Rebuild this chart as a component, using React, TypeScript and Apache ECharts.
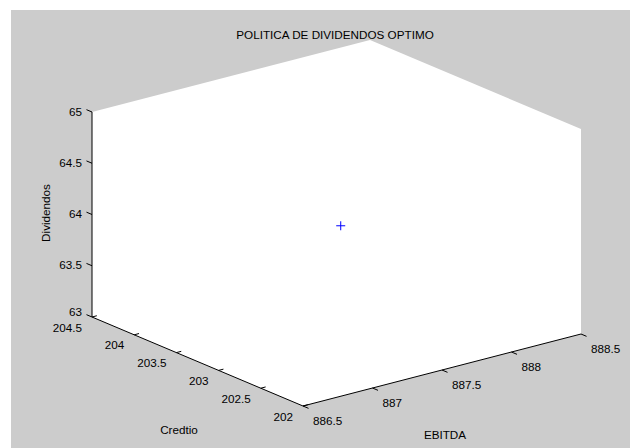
import React, { useEffect, useRef } from "react";
import * as echarts from "echarts";

// ---- data ----
const titleText = "POLITICA DE DIVIDENDOS OPTIMO";
const xName = "EBITDA";
const yName = "Credtio";
const zName = "Dividendos";
const ebitdaTicks = [886.5, 887, 887.5, 888, 888.5];
const credtioTicks = [202, 202.5, 203, 203.5, 204, 204.5];
const dividendosTicks = [63, 63.5, 64, 64.5, 65];
const pointEbitda = [887.5];
const pointCredtio = [203.2];
const pointDividendos = [64];

// ---- projection (layout of the 3-D box on screen) ----
const ORIGIN = [303, 406];
const AX = [278, -72]; // full EBITDA range
const AY = [-211, -89]; // full Credtio range
const AZ = [0, -205]; // full Dividendos range

const x0 = ebitdaTicks[0], x1 = ebitdaTicks[ebitdaTicks.length - 1];
const y0 = credtioTicks[0], y1 = credtioTicks[credtioTicks.length - 1];
const z0 = dividendosTicks[0], z1 = dividendosTicks[dividendosTicks.length - 1];

function proj(x: number, y: number, z: number): number[] {
  const fx = (x - x0) / (x1 - x0);
  const fy = (y - y0) / (y1 - y0);
  const fz = (z - z0) / (z1 - z0);
  return [
    ORIGIN[0] + AX[0] * fx + AY[0] * fy + AZ[0] * fz,
    ORIGIN[1] + AX[1] * fx + AY[1] * fy + AZ[1] * fz,
  ];
}
function unit(v: number[]) {
  const l = Math.hypot(v[0], v[1]);
  return [v[0] / l, v[1] / l];
}

const FONT = "Liberation Sans, Arial, Helvetica, sans-serif";
const FS = 11.7;

function txt(text: string, x: number, y: number, align: string, extra: any = {}) {
  return {
    type: "text",
    silent: true,
    x,
    y,
    ...extra,
    style: {
      text,
      x: 0,
      y: 0,
      fill: "#000",
      fontSize: FS,
      fontFamily: FONT,
      textAlign: align,
      align,
      textVerticalAlign: "middle",
      verticalAlign: "middle",
    },
  };
}
function seg(a: number[], b: number[], color = "#000") {
  return {
    type: "line",
    silent: true,
    shape: { x1: a[0], y1: a[1], x2: b[0], y2: b[1] },
    style: { stroke: color, lineWidth: 1 },
  };
}

function buildGraphic() {
  const els: any[] = [];
  els.push({
    type: "rect",
    silent: true,
    shape: { x: 11, y: 10, width: 619, height: 438 },
    style: { fill: "#cccccc" },
  });
  const hex = [
    proj(x0, y0, z0),
    proj(x0, y1, z0),
    proj(x0, y1, z1),
    proj(x1, y1, z1),
    proj(x1, y0, z1),
    proj(x1, y0, z0),
  ];
  els.push({ type: "polygon", silent: true, shape: { points: hex }, style: { fill: "#ffffff" } });

  // axes lines
  els.push(seg(proj(x0, y1, z0), proj(x0, y1, z1)));
  els.push(seg(proj(x0, y0, z0), proj(x0, y1, z0)));
  els.push(seg(proj(x0, y0, z0), proj(x1, y0, z0)));

  const TL = 6;
  // z ticks (pointing along +Credtio direction)
  const dz = unit(AY);
  dividendosTicks.forEach((v, i) => {
    const p = proj(x0, y1, v);
    els.push(seg(p, [p[0] + dz[0] * TL, p[1] + dz[1] * TL]));
    els.push(txt(String(v), p[0] - 10, p[1] - (i === 0 ? 6 : 1), "right"));
  });
  // credtio ticks (pointing along +EBITDA)
  const dy = unit(AX);
  credtioTicks.forEach((v) => {
    const p = proj(x0, v, z0);
    els.push(seg(p, [p[0] + dy[0] * 5, p[1] + dy[1] * 5]));
    els.push(txt(String(v), p[0] - 10, p[1] + 10, "right"));
  });
  // ebitda ticks (pointing along -Credtio)
  const dx = unit([-AY[0], -AY[1]]);
  ebitdaTicks.forEach((v) => {
    const p = proj(v, y0, z0);
    els.push(seg(p, [p[0] + dx[0] * TL, p[1] + dx[1] * TL]));
    els.push(txt(String(v), p[0] + 10, p[1] + 14, "left"));
  });

  els.push(txt(titleText, 335, 34, "center"));
  els.push(txt(yName, 179, 429, "center"));
  els.push(txt(xName, 445, 434, "center"));
  els.push(txt(zName, 45, 213, "center", { rotation: Math.PI / 2 }));
  return els;
}

export default function App() {
  const ref = useRef<HTMLDivElement>(null);
  useEffect(() => {
    document.body.style.margin = "0";
    const chart = echarts.init(ref.current!, null, { renderer: "svg" });
    const data = pointEbitda.map((e, i) => [e, pointCredtio[i], pointDividendos[i]]);
    chart.setOption({
      animation: false,
      backgroundColor: "#ffffff",
      graphic: { elements: buildGraphic() },
      series: [
        {
          type: "custom",
          coordinateSystem: "none",
          z: 10,
          silent: true,
          data,
          renderItem: (_params: any, api: any) => {
            const p = proj(api.value(0), api.value(1), api.value(2));
            const s = 4.5;
            return {
              type: "group",
              children: [
                {
                  type: "line",
                  shape: { x1: p[0] - s, y1: p[1] + 1, x2: p[0] + s, y2: p[1] + 1 },
                  style: { stroke: "#0000ff", lineWidth: 1 },
                },
                {
                  type: "line",
                  shape: { x1: p[0], y1: p[1] + 1 - s, x2: p[0], y2: p[1] + 1 + s },
                  style: { stroke: "#0000ff", lineWidth: 1 },
                },
              ],
            };
          },
        },
      ],
    });
    return () => chart.dispose();
  }, []);
  return <div ref={ref} style={{ width: 630, height: 448 }} />;
}
